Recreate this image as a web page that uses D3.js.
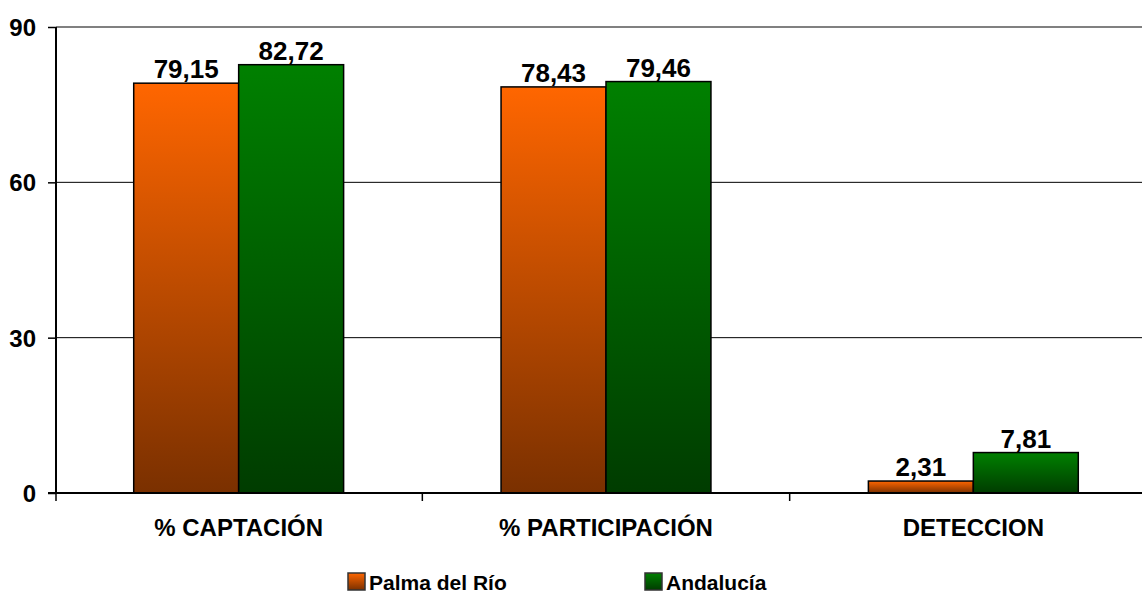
<!DOCTYPE html>
<html>
<head>
<meta charset="utf-8">
<script src="https://cdn.jsdelivr.net/npm/d3@7"></script>
<style>
  body { margin: 0; background: #fff; }
  svg { display: block; font-family: "Liberation Sans", Arial, sans-serif; font-weight: bold; }
</style>
</head>
<body>
<svg width="1142" height="594"></svg>
<script>
// grouped bars: Palma del Río vs Andalucía

var categories = ["% CAPTACIÓN", "% PARTICIPACIÓN", "DETECCION"];
var seriesNames = ["Palma del Río", "Andalucía"];
var palmaValues = [79.15, 78.43, 2.31];
var andaluciaValues = [82.72, 79.46, 7.81];
var yTicks = [0, 30, 60, 90];

var svg = d3.select("svg");

var x0 = d3.scaleBand().domain(categories).range([55, 1157]).padding(0);
var x1 = d3.scaleBand().domain(seriesNames).range([0, x0.bandwidth()]).paddingInner(0).paddingOuter(0.75);
var y = d3.scaleLinear().domain([0, 90]).range([493, 27]);

var defs = svg.append("defs");
var grads = [
  {id: "gOrange", top: "#ff6600", bottom: "#7a3000"},
  {id: "gGreen", top: "#008000", bottom: "#003c00"}
];
grads.forEach(g => {
  var lg = defs.append("linearGradient").attr("id", g.id)
    .attr("x1", 0).attr("y1", 0).attr("x2", 0).attr("y2", 1);
  lg.append("stop").attr("offset", "0%").attr("stop-color", g.top);
  lg.append("stop").attr("offset", "100%").attr("stop-color", g.bottom);
});
var fills = {"Palma del Río": "url(#gOrange)", "Andalucía": "url(#gGreen)"};

// gridlines
svg.append("g").selectAll("line")
  .data(yTicks.filter(t => t > 0))
  .enter().append("line")
  .attr("x1", 56).attr("x2", 1142)
  .attr("y1", d => y(d)).attr("y2", d => y(d))
  .attr("stroke", d => d === 90 ? "#808080" : "#000")
  .attr("stroke-width", d => d === 90 ? 2 : 1);

// y axis
var yAxis = svg.append("g")
  .attr("transform", "translate(56,0)")
  .call(d3.axisLeft(y).tickValues(yTicks).tickSize(8).tickPadding(12));
yAxis.select(".domain").attr("stroke", "#000").attr("stroke-width", 2).attr("d", "M0," + y(90) + "V" + y(0));
yAxis.selectAll(".tick line").attr("stroke", "#000").attr("stroke-width", 1.5);
yAxis.selectAll(".tick text").attr("font-size", 24).attr("font-weight", "bold")
  .attr("font-family", "Liberation Sans, Arial, sans-serif").attr("fill", "#000")
  .attr("x", -20).attr("dy", "0.35em");

// bars
var data = categories.map((c, i) => ({
  cat: c,
  vals: [{s: seriesNames[0], v: palmaValues[i]}, {s: seriesNames[1], v: andaluciaValues[i]}]
}));

var groups = svg.append("g").selectAll("g")
  .data(data).enter().append("g")
  .attr("transform", d => "translate(" + x0(d.cat) + ",0)");

groups.selectAll("rect")
  .data(d => d.vals).enter().append("rect")
  .attr("x", d => x1(d.s))
  .attr("width", x1.bandwidth())
  .attr("y", d => y(d.v))
  .attr("height", d => y(0) - y(d.v))
  .attr("fill", d => fills[d.s])
  .attr("stroke", "#000")
  .attr("stroke-width", 1.5);

groups.selectAll("text")
  .data(d => d.vals).enter().append("text")
  .attr("x", d => x1(d.s) + x1.bandwidth() / 2)
  .attr("y", d => y(d.v) - 5)
  .attr("text-anchor", "middle")
  .attr("font-size", 26)
  .text(d => d3.format(".2f")(d.v).replace(".", ","));

// x axis
var xAxis = svg.append("g").attr("transform", "translate(0," + y(0) + ")");
xAxis.append("line").attr("x1", 48).attr("x2", 1142).attr("stroke", "#000").attr("stroke-width", 2);
xAxis.selectAll(".xt")
  .data(categories.slice(1)).enter().append("line")
  .attr("x1", d => x0(d)).attr("x2", d => x0(d))
  .attr("y1", 0).attr("y2", 8)
  .attr("stroke", "#000").attr("stroke-width", 1.5);
xAxis.append("line").attr("x1", 56).attr("x2", 56).attr("y1", 0).attr("y2", 8)
  .attr("stroke", "#000").attr("stroke-width", 1.5);
xAxis.selectAll("text")
  .data(categories).enter().append("text")
  .attr("x", d => x0(d) + x0.bandwidth() / 2)
  .attr("y", 43)
  .attr("text-anchor", "middle")
  .attr("font-size", 24)
  .text(d => d);

// legend
var legend = svg.append("g");
var legendX = [348, 645];
seriesNames.forEach((s, i) => {
  var lg = legend.append("g").attr("transform", "translate(" + legendX[i] + ",573)");
  lg.append("rect").attr("width", 17).attr("height", 17)
    .attr("fill", fills[s]).attr("stroke", "#333").attr("stroke-width", 1.5);
  lg.append("text").attr("x", 21).attr("y", 16.5)
    .attr("font-size", 21).text(s);
});
</script>
</body>
</html>
